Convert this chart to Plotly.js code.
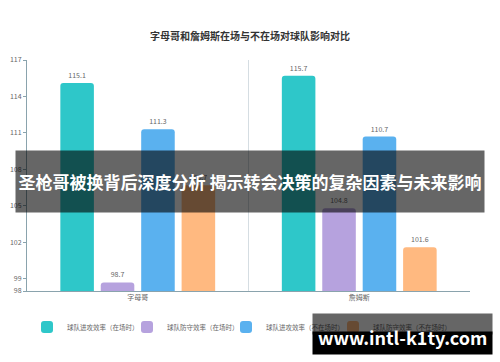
<!DOCTYPE html>
<html>
<head>
<meta charset="utf-8">
<script src="https://cdn.plot.ly/plotly-3.0.1.min.js"></script>
<style>html,body{margin:0;padding:0;background:#fff;}#chart{width:500px;height:362px;}</style>
</head>
<body>
<div id="chart"></div>
<script>
const categories = ['字母哥', '詹姆斯'];
const seriesNames = ['球队进攻效率（在场时）', '球队防守效率（在场时）', '球队进攻效率（不在场时）', '球队防守效率（不在场时）'];
const offOn = [115.1, 115.7];
const defOn = [98.7, 104.8];
const offOff = [111.3, 110.7];
const defOff = [106.7, 101.6];
const yTicks = [98, 99, 102, 105, 108, 111, 114, 117];
const colors = ['#2ec7c9', '#b6a2de', '#5ab1ef', '#ffb980'];
const chartTitle = '字母哥和詹姆斯在场与不在场对球队影响对比';
const bannerText = '圣枪哥被换背后深度分析 揭示转会决策的复杂因素与未来影响';
const watermarkText = 'www.intl-k1ty.com';

const FONT = '"Noto Sans CJK SC", "Noto Sans", sans-serif';
const seriesValues = [offOn, defOn, offOff, defOff];
const legendIds = ['legend', 'legend2', 'legend3', 'legend4'];
const legendX = [27, 127, 226, 333];

// pixel -> paper helpers (plot area: x 27..470, y 60..291)
const L = 27, R = 470, T = 60, B = 291;
const px = x => (x - L) / (R - L);
const py = y => (B - y) / (B - T);

const traces = seriesValues.map((vals, i) => ({
  type: 'bar',
  name: seriesNames[i],
  legend: legendIds[i],
  x: categories,
  y: vals,
  marker: {color: colors[i], cornerradius: 3},
  text: vals.map(v => v.toFixed(1)),
  textposition: 'outside',
  cliponaxis: false,
  textfont: {size: 7, color: '#666', family: FONT},
  hoverinfo: 'skip'
}));

const layout = {
  width: 500, height: 362,
  margin: {l: L, r: 500 - R, t: T, b: 362 - B},
  paper_bgcolor: '#fff', plot_bgcolor: '#fff',
  font: {family: FONT, color: '#666', size: 7},
  title: {text: chartTitle, font: {size: 10, color: '#333', family: FONT, weight: 'bold'},
          x: 0.5, xref: 'container', y: 1 - 36 / 362, yref: 'container', yanchor: 'middle'},
  barmode: 'group',
  bargap: 0.27,
  bargroupgap: 0.17,
  showlegend: true,
  xaxis: {type: 'category', tickson: 'boundaries', showgrid: true, gridcolor: '#d5dde2', gridwidth: 1,
          ticks: '', showline: true, linecolor: '#8aa3ad', linewidth: 1,
          tickfont: {size: 7, color: '#666', family: FONT}, fixedrange: true},
  yaxis: {range: [98, 117], tickvals: yTicks, ticktext: yTicks.map(String), showgrid: false, zeroline: false,
          showline: true, linecolor: '#8aa3ad', linewidth: 1, ticks: 'outside', ticklen: 3,
          tickcolor: '#8aa3ad', tickfont: {size: 7, color: '#666', family: FONT}, fixedrange: true},
  annotations: [
    {xref: 'paper', yref: 'paper', x: px(250), y: py(181.5), xanchor: 'center', yanchor: 'middle',
     text: bannerText, showarrow: false, width: 466, height: 59, bgcolor: 'rgba(0,0,0,0.6)',
     font: {size: 17, color: '#fff', family: FONT, weight: 'bold'}},
    {xref: 'paper', yref: 'paper', x: px(402.5), y: py(324), xanchor: 'center', yanchor: 'middle',
     text: ' ', showarrow: false, width: 177, height: 18, bgcolor: 'rgba(0,0,0,0.6)'},
    {xref: 'paper', yref: 'paper', x: px(402.5), y: py(343), xanchor: 'center', yanchor: 'middle',
     text: ' ', showarrow: false, width: 177, height: 20, bgcolor: '#000'},
    {xref: 'paper', yref: 'paper', x: px(402), y: py(337), xanchor: 'center', yanchor: 'middle',
     text: watermarkText, showarrow: false,
     font: {size: 18, color: '#fff', family: FONT, weight: 'bold'}}
  ]
};

legendIds.forEach((id, i) => {
  layout[id] = {orientation: 'h', x: legendX[i] / 500, xref: 'container', xanchor: 'left',
                y: 1 - 327 / 362, yref: 'container', yanchor: 'middle', bgcolor: 'rgba(0,0,0,0)',
                font: {size: 6.5, color: '#666', family: FONT}, itemwidth: 30};
});

Plotly.newPlot('chart', traces, layout, {displayModeBar: false, staticPlot: true});
</script>
</body>
</html>
